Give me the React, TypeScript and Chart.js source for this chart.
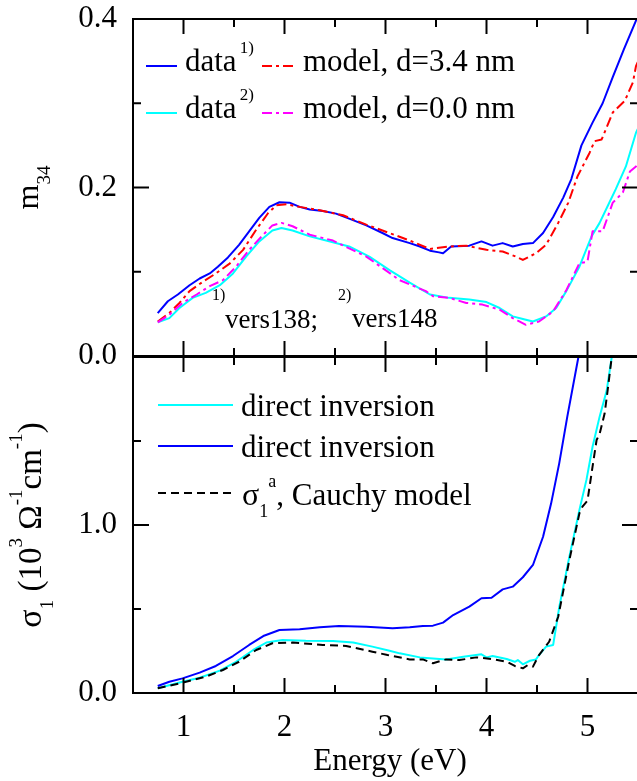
import React, { useEffect, useRef } from 'react';
import { Chart, registerables } from 'chart.js';
Chart.register(...registerables);

const FONT = "'Liberation Serif', 'Times New Roman', serif";

// ---------- top panel: m34 vs energy ----------
const data1Energy = [0.745, 0.845, 0.944, 1.06, 1.16, 1.26, 1.34, 1.44, 1.55, 1.65, 1.75, 1.85, 1.95, 2.05, 2.15, 2.25, 2.38, 2.51, 2.64, 2.81, 2.97, 3.07, 3.24, 3.34, 3.44, 3.53, 3.57, 3.65, 3.83, 3.95, 4.06, 4.16, 4.26, 4.36, 4.46, 4.56, 4.66, 4.76, 4.84, 4.94, 5.05, 5.15, 5.25, 5.36, 5.48, 5.52];
const data1M34 = [0.051, 0.065, 0.073, 0.084, 0.092, 0.098, 0.106, 0.117, 0.132, 0.148, 0.164, 0.177, 0.1825, 0.182, 0.177, 0.174, 0.172, 0.169, 0.163, 0.155, 0.146, 0.140, 0.134, 0.130, 0.125, 0.123, 0.122, 0.130, 0.131, 0.136, 0.131, 0.134, 0.130, 0.133, 0.134, 0.146, 0.165, 0.188, 0.21, 0.25, 0.277, 0.30, 0.331, 0.364, 0.398, 0.41];

const model34Energy = [0.745, 0.86, 0.96, 1.06, 1.19, 1.32, 1.46, 1.59, 1.72, 1.84, 1.92, 2.02, 2.15, 2.35, 2.58, 2.81, 2.97, 3.24, 3.44, 3.63, 3.80, 4.0, 4.16, 4.29, 4.36, 4.49, 4.59, 4.71, 4.81, 4.90, 5.02, 5.07, 5.14, 5.25, 5.37, 5.45, 5.48, 5.52];
const model34M34 = [0.041, 0.051, 0.063, 0.077, 0.088, 0.098, 0.110, 0.126, 0.150, 0.170, 0.179, 0.180, 0.177, 0.173, 0.167, 0.156, 0.149, 0.137, 0.127, 0.130, 0.131, 0.126, 0.124, 0.118, 0.114, 0.122, 0.132, 0.158, 0.182, 0.213, 0.241, 0.255, 0.257, 0.289, 0.303, 0.325, 0.344, 0.355];

const data2Energy = [0.745, 0.86, 0.96, 1.09, 1.22, 1.36, 1.49, 1.62, 1.75, 1.88, 1.97, 2.08, 2.25, 2.45, 2.64, 2.84, 3.04, 3.24, 3.44, 3.63, 3.83, 4.0, 4.13, 4.26, 4.36, 4.46, 4.59, 4.69, 4.79, 4.92, 5.04, 5.12, 5.20, 5.28, 5.38, 5.48, 5.52];
const data2M34 = [0.040, 0.045, 0.057, 0.069, 0.075, 0.084, 0.098, 0.118, 0.136, 0.149, 0.152, 0.149, 0.142, 0.136, 0.130, 0.118, 0.102, 0.087, 0.073, 0.069, 0.067, 0.064, 0.057, 0.047, 0.044, 0.041, 0.047, 0.057, 0.077, 0.106, 0.142, 0.158, 0.178, 0.198, 0.225, 0.265, 0.275];

const model00Energy = [0.745, 0.86, 0.99, 1.13, 1.26, 1.39, 1.52, 1.65, 1.79, 1.88, 1.97, 2.08, 2.25, 2.48, 2.81, 3.14, 3.30, 3.40, 3.47, 3.63, 3.80, 3.96, 4.13, 4.26, 4.39, 4.52, 4.66, 4.79, 4.92, 5.0, 5.05, 5.15, 5.25, 5.35, 5.42, 5.48, 5.52];
const model00M34 = [0.040, 0.049, 0.063, 0.073, 0.083, 0.090, 0.106, 0.126, 0.144, 0.155, 0.158, 0.154, 0.144, 0.137, 0.118, 0.090, 0.082, 0.077, 0.071, 0.069, 0.063, 0.061, 0.055, 0.045, 0.037, 0.041, 0.053, 0.078, 0.110, 0.112, 0.148, 0.148, 0.182, 0.194, 0.219, 0.225, 0.232];

// ---------- bottom panel: sigma1 vs energy ----------
const invCyanEnergy = [0.745, 0.99, 1.16, 1.36, 1.52, 1.69, 1.82, 1.98, 2.21, 2.48, 2.68, 2.87, 3.04, 3.14, 3.34, 3.47, 3.60, 3.77, 3.95, 4.00, 4.06, 4.20, 4.28, 4.31, 4.36, 4.43, 4.49, 4.52, 4.59, 4.66, 4.72, 4.82, 4.92, 4.99, 5.05, 5.12, 5.19, 5.24, 5.27];
const invCyanSigma = [0.028, 0.067, 0.091, 0.133, 0.186, 0.256, 0.30, 0.315, 0.311, 0.31, 0.30, 0.276, 0.252, 0.236, 0.212, 0.206, 0.20, 0.216, 0.230, 0.212, 0.22, 0.202, 0.186, 0.196, 0.171, 0.192, 0.20, 0.226, 0.276, 0.286, 0.51, 0.81, 1.09, 1.27, 1.466, 1.645, 1.80, 2.0, 2.15];

const invBlueEnergy = [0.745, 0.86, 0.99, 1.16, 1.32, 1.49, 1.65, 1.79, 1.95, 2.15, 2.35, 2.54, 2.81, 3.07, 3.24, 3.37, 3.47, 3.57, 3.67, 3.83, 3.95, 4.05, 4.16, 4.26, 4.36, 4.46, 4.56, 4.64, 4.72, 4.80, 4.91, 4.95];
const invBlueSigma = [0.042, 0.067, 0.087, 0.121, 0.161, 0.220, 0.286, 0.339, 0.375, 0.379, 0.391, 0.399, 0.395, 0.385, 0.391, 0.399, 0.401, 0.419, 0.464, 0.514, 0.564, 0.567, 0.617, 0.633, 0.689, 0.762, 0.93, 1.129, 1.367, 1.645, 2.0, 2.2];

const cauchyEnergy = [0.745, 0.99, 1.22, 1.39, 1.55, 1.72, 1.88, 2.08, 2.38, 2.61, 2.87, 3.02, 3.24, 3.37, 3.47, 3.60, 3.73, 3.90, 4.06, 4.20, 4.28, 4.36, 4.41, 4.46, 4.52, 4.62, 4.71, 4.82, 4.92, 4.95, 5.00, 5.05, 5.09, 5.12, 5.17, 5.20, 5.24, 5.27];
const cauchySigma = [0.028, 0.061, 0.097, 0.137, 0.186, 0.256, 0.296, 0.30, 0.286, 0.28, 0.246, 0.226, 0.20, 0.20, 0.177, 0.20, 0.196, 0.212, 0.202, 0.186, 0.161, 0.147, 0.167, 0.157, 0.226, 0.305, 0.454, 0.79, 1.07, 1.109, 1.145, 1.347, 1.506, 1.542, 1.665, 1.804, 2.0, 2.15];

// axis settings
const energyMin = 0.5, energyMax = 5.5, energyStep = 0.5;
const m34Min = 0, m34Max = 0.4, m34Step = 0.1, m34LabelStep = 0.2;
const sigmaMin = 0, sigmaMax = 2.0, sigmaStep = 0.5, sigmaLabels = [0, 1];

const CW = 658, CH = 781;
const TOP_SHIFT = 16; // top canvas is moved up so Chart.js label padding fits
const TH = CH + TOP_SHIFT;

function zip(xs: number[], ys: number[]) {
  return xs.map((x, i) => ({ x, y: ys[i] }));
}

type Part = { t: string; s: number; dy?: number; dx?: number };
type TextItem = { parts: Part[]; x?: number; y: number; align?: 'left' | 'center'; rotate?: boolean; vcenter?: boolean };
type LegendItem = { ds: number; x1: number; x2: number; y: number };

function partsWidth(ctx: CanvasRenderingContext2D, parts: Part[]) {
  let w = 0;
  for (const p of parts) {
    ctx.font = `${p.s}px ${FONT}`;
    w += ctx.measureText(p.t).width + (p.dx || 0);
  }
  return w;
}
function drawParts(ctx: CanvasRenderingContext2D, x: number, y: number, parts: Part[]) {
  let cx = x;
  for (const p of parts) {
    ctx.font = `${p.s}px ${FONT}`;
    cx += p.dx || 0;
    ctx.fillText(p.t, cx, y + (p.dy || 0));
    cx += ctx.measureText(p.t).width;
  }
}

const framePlugin = {
  id: 'frame',
  afterDatasetsDraw(chart: any) {
    const { ctx, chartArea: a, scales } = chart;
    const o = chart.options.plugins.frame || {};
    ctx.save();
    ctx.strokeStyle = '#000';
    ctx.lineWidth = 2;
    ctx.setLineDash([]);
    ctx.strokeRect(a.left, a.top, a.right - a.left, a.bottom - a.top);
    const seg = (x1: number, y1: number, x2: number, y2: number) => {
      ctx.beginPath(); ctx.moveTo(x1, y1); ctx.lineTo(x2, y2); ctx.stroke();
    };
    const xs = scales.x;
    for (const t of xs.ticks) {
      const px = xs.getPixelForValue(t.value);
      if (px <= a.left + 1 || px >= a.right - 1) continue;
      const major = Math.abs(t.value - Math.round(t.value)) < 1e-6;
      const len = major ? 15 : 8;
      seg(px, a.bottom, px, a.bottom - len);
      seg(px, a.top, px, a.top + len);
    }
    const ys = scales.y;
    for (const t of ys.ticks) {
      const py = ys.getPixelForValue(t.value);
      if (py <= a.top + 1 || py >= a.bottom - 1) continue;
      const r = t.value / o.yMajor;
      const major = Math.abs(r - Math.round(r)) < 1e-6;
      const len = major ? 16 : 8;
      seg(a.left, py, a.left + len, py);
      seg(a.right, py, a.right - len, py);
    }
    ctx.restore();
  },
};

const textPlugin = {
  id: 'texts',
  afterDraw(chart: any) {
    const { ctx, chartArea: a } = chart;
    const o = chart.options.plugins.texts || {};
    const oy = o.offsetY || 0;
    ctx.save();
    ctx.fillStyle = '#000';
    ctx.textBaseline = 'alphabetic';
    ctx.textAlign = 'left';
    const legend: LegendItem[] = o.legend || [];
    for (const li of legend) {
      const ds = chart.data.datasets[li.ds];
      ctx.strokeStyle = ds.borderColor;
      ctx.lineWidth = ds.borderWidth || 2;
      ctx.setLineDash(ds.borderDash || []);
      ctx.beginPath(); ctx.moveTo(li.x1, li.y + oy); ctx.lineTo(li.x2, li.y + oy); ctx.stroke();
    }
    ctx.setLineDash([]);
    const items: TextItem[] = o.items || [];
    for (const it of items) {
      const w = partsWidth(ctx, it.parts);
      if (it.rotate) {
        const yc = it.vcenter ? (a.top + a.bottom) / 2 : it.y + oy;
        ctx.save();
        ctx.translate(it.x as number, yc);
        ctx.rotate(-Math.PI / 2);
        drawParts(ctx, -w / 2, 0, it.parts);
        ctx.restore();
      } else {
        const x0 = it.align === 'center' ? (it.x as number) - w / 2 : (it.x as number);
        drawParts(ctx, x0, it.y + oy, it.parts);
      }
    }
    ctx.restore();
  },
};

const lineStyle = { pointRadius: 0, borderWidth: 2, fill: false, tension: 0, borderJoinStyle: 'round' as const };

function tickFont() {
  return { family: FONT, size: 31 };
}

function topConfig(): any {
  return {
    type: 'line',
    data: {
      datasets: [
        { label: 'data 1)', data: zip(data1Energy, data1M34), borderColor: '#0000ff', order: 4, ...lineStyle },
        { label: 'model, d=3.4 nm', data: zip(model34Energy, model34M34), borderColor: '#ff0000', borderDash: [10, 4, 3, 4], order: 3, ...lineStyle },
        { label: 'data 2)', data: zip(data2Energy, data2M34), borderColor: '#00ffff', order: 2, ...lineStyle },
        { label: 'model, d=0.0 nm', data: zip(model00Energy, model00M34), borderColor: '#ff00ff', borderDash: [10, 4, 3, 4], order: 1, ...lineStyle },
      ],
    },
    options: {
      responsive: false,
      animation: false,
      devicePixelRatio: 1,
      layout: { padding: { left: 0, right: CW - 638, top: 19 + TOP_SHIFT, bottom: TH - (356 + TOP_SHIFT) } },
      plugins: {
        legend: { display: false },
        tooltip: { enabled: false },
        frame: { yMajor: m34LabelStep },
        texts: {
          offsetY: TOP_SHIFT,
          legend: [
            { ds: 0, x1: 146, x2: 177, y: 66 },
            { ds: 1, x1: 262, x2: 293, y: 66 },
            { ds: 2, x1: 146, x2: 177, y: 113 },
            { ds: 3, x1: 262, x2: 293, y: 113 },
          ],
          items: [
            { parts: [{ t: 'data', s: 31 }, { t: '1)', s: 17, dy: -18, dx: 3 }], x: 185, y: 71 },
            { parts: [{ t: 'model, d=3.4 nm', s: 31 }], x: 303, y: 71 },
            { parts: [{ t: 'data', s: 31 }, { t: '2)', s: 17, dy: -18, dx: 3 }], x: 185, y: 118 },
            { parts: [{ t: 'model, d=0.0 nm', s: 31 }], x: 303, y: 118 },
            { parts: [{ t: '1)', s: 16 }], x: 212, y: 300 },
            { parts: [{ t: 'vers138;', s: 27 }], x: 225, y: 328 },
            { parts: [{ t: '2)', s: 16 }], x: 338, y: 300 },
            { parts: [{ t: 'vers148', s: 27 }], x: 352, y: 327 },
            { parts: [{ t: 'm', s: 32 }, { t: '34', s: 19, dy: 12 }], x: 38, y: 0, rotate: true, vcenter: true },
          ],
        },
      },
      scales: {
        x: {
          type: 'linear', min: energyMin, max: energyMax,
          ticks: { display: false, stepSize: energyStep },
          grid: { display: false, drawTicks: false },
          border: { display: false },
          afterFit: (s: any) => { s.height = 0; },
        },
        y: {
          type: 'linear', min: m34Min, max: m34Max,
          ticks: {
            stepSize: m34Step, autoSkip: false, padding: 16, color: '#000', font: tickFont(),
            callback: (v: number) => {
              const r = v / m34LabelStep;
              return Math.abs(r - Math.round(r)) < 1e-6 ? v.toFixed(1) : '';
            },
          },
          grid: { display: false, drawTicks: false },
          border: { display: false },
          afterFit: (s: any) => { s.width = 133; },
        },
      },
    },
    plugins: [framePlugin, textPlugin],
  };
}

function bottomConfig(): any {
  return {
    type: 'line',
    data: {
      datasets: [
        { label: 'direct inversion', data: zip(invCyanEnergy, invCyanSigma), borderColor: '#00ffff', order: 3, ...lineStyle },
        { label: 'direct inversion', data: zip(invBlueEnergy, invBlueSigma), borderColor: '#0000ff', order: 2, ...lineStyle },
        { label: 'σ1a, Cauchy model', data: zip(cauchyEnergy, cauchySigma), borderColor: '#000000', borderDash: [8, 5], order: 1, ...lineStyle },
      ],
    },
    options: {
      responsive: false,
      animation: false,
      devicePixelRatio: 1,
      layout: { padding: { left: 0, right: CW - 638, top: 357, bottom: 0 } },
      plugins: {
        legend: { display: false },
        tooltip: { enabled: false },
        frame: { yMajor: 1 },
        texts: {
          legend: [
            { ds: 0, x1: 158, x2: 233, y: 405 },
            { ds: 1, x1: 158, x2: 233, y: 446 },
            { ds: 2, x1: 158, x2: 233, y: 493 },
          ],
          items: [
            { parts: [{ t: 'direct inversion', s: 31 }], x: 241, y: 416 },
            { parts: [{ t: 'direct inversion', s: 31 }], x: 241, y: 457 },
            { parts: [{ t: 'σ', s: 32 }, { t: '1', s: 18, dy: 12 }, { t: 'a', s: 18, dy: -18 }, { t: ', Cauchy model', s: 31 }], x: 242, y: 505 },
            { parts: [{ t: 'Energy (eV)', s: 31 }], x: 390, y: 770, align: 'center' },
            {
              parts: [
                { t: 'σ', s: 34 }, { t: '1', s: 19, dy: 12 }, { t: ' (10', s: 33 }, { t: '3', s: 19, dy: -19 },
                { t: ' Ω', s: 33 }, { t: '-1', s: 19, dy: -19 }, { t: 'cm', s: 33 }, { t: '-1', s: 19, dy: -19 }, { t: ')', s: 33 },
              ],
              x: 41, y: 0, rotate: true, vcenter: true,
            },
          ],
        },
      },
      scales: {
        x: {
          type: 'linear', min: energyMin, max: energyMax,
          ticks: {
            stepSize: energyStep, autoSkip: false, maxRotation: 0, padding: 16, color: '#000', font: tickFont(),
            callback: (v: number) => (Math.abs(v - Math.round(v)) < 1e-6 ? String(Math.round(v)) : ''),
          },
          grid: { display: false, drawTicks: false },
          border: { display: false },
          afterFit: (s: any) => { s.height = CH - 693; },
        },
        y: {
          type: 'linear', min: sigmaMin, max: sigmaMax,
          ticks: {
            stepSize: sigmaStep, autoSkip: false, padding: 16, color: '#000', font: tickFont(),
            callback: (v: number) => (sigmaLabels.some((l) => Math.abs(l - v) < 1e-6) ? v.toFixed(1) : ''),
          },
          grid: { display: false, drawTicks: false },
          border: { display: false },
          afterFit: (s: any) => { s.width = 133; },
        },
      },
    },
    plugins: [framePlugin, textPlugin],
  };
}

export default function App() {
  const topRef = useRef<HTMLCanvasElement>(null);
  const botRef = useRef<HTMLCanvasElement>(null);
  useEffect(() => {
    const c1 = new Chart(topRef.current as HTMLCanvasElement, topConfig());
    const c2 = new Chart(botRef.current as HTMLCanvasElement, bottomConfig());
    return () => {
      c1.destroy();
      c2.destroy();
    };
  }, []);
  return (
    <div style={{ position: 'fixed', left: 0, top: 0, width: 637, height: 781, overflow: 'hidden', background: '#fff' }}>
      <canvas ref={topRef} width={CW} height={TH} style={{ position: 'absolute', left: 0, top: -TOP_SHIFT }} />
      <canvas ref={botRef} width={CW} height={CH} style={{ position: 'absolute', left: 0, top: 0 }} />
    </div>
  );
}
